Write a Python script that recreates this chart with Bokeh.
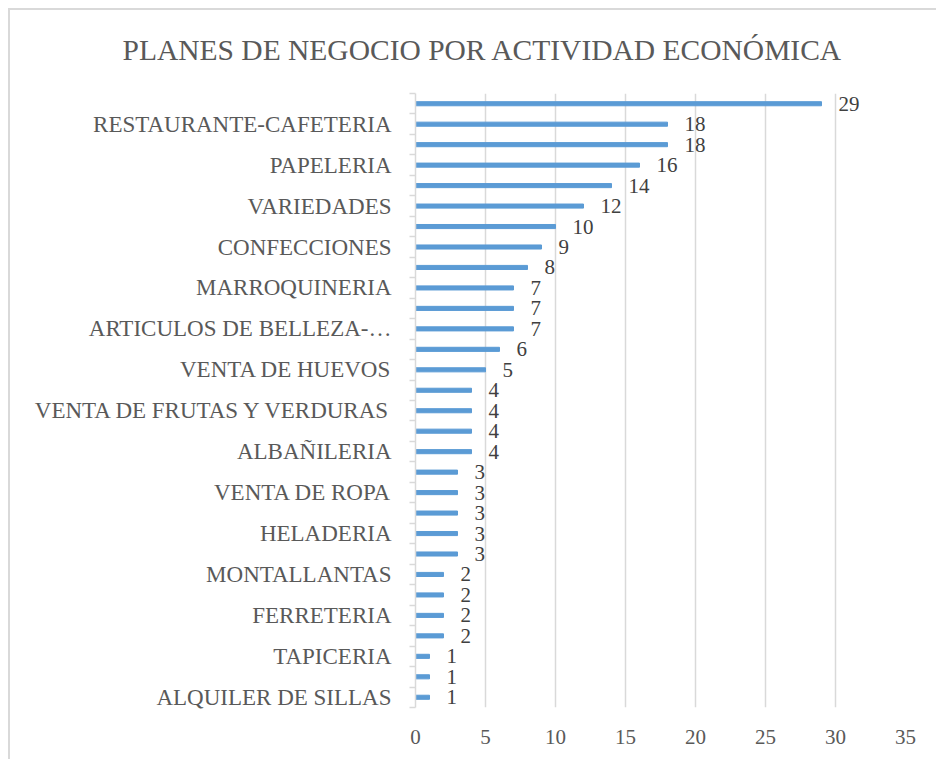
from bokeh.plotting import figure
from bokeh.models import ColumnDataSource, Range1d, FixedTicker
from bokeh.core.properties import value
from bokeh.embed import file_html
from bokeh.resources import INLINE

title = "PLANES DE NEGOCIO POR ACTIVIDAD ECONÓMICA"
# categories from top to bottom (only every other one is labelled in the reference)
categories = [
    "", "RESTAURANTE-CAFETERIA", "", "PAPELERIA", "", "VARIEDADES",
    "", "CONFECCIONES", "", "MARROQUINERIA", "", "ARTICULOS DE BELLEZA-…",
    "", "VENTA DE HUEVOS", "", "VENTA DE FRUTAS Y VERDURAS", "", "ALBAÑILERIA",
    "", "VENTA DE ROPA", "", "HELADERIA", "", "MONTALLANTAS",
    "", "FERRETERIA", "", "TAPICERIA", "", "ALQUILER DE SILLAS",
]
values = [29, 18, 18, 16, 14, 12, 10, 9, 8, 7, 7, 7, 6, 5, 4,
          4, 4, 4, 3, 3, 3, 3, 3, 2, 2, 2, 2, 1, 1, 1]
x_ticks = [0, 5, 10, 15, 20, 25, 30, 35]

FONT = "Liberation Serif"
GRAY = "#595959"
n = len(values)
pos = list(range(n))

src = ColumnDataSource(dict(y=pos, v=values, lbl=[str(v) for v in values]))

p = figure(width=936, height=759, output_backend="svg", toolbar_location=None,
           x_range=Range1d(0, 35), y_range=Range1d(n - 0.5, -0.5),
           min_border_left=415, min_border_right=31, min_border_top=93,
           min_border_bottom=52)
p.outline_line_color = None
p.border_fill_color = "white"

p.title.text = title
p.title.align = "left"
p.title.offset = -293
p.title.text_font = FONT
p.title.text_font_size = "29.5px"
p.title.text_font_style = "normal"
p.title.text_color = GRAY
p.title.standoff = 55

p.hbar(y="y", left=0, right="v", height=0.2, color="#5B9BD5", source=src)
p.text(x="v", y="y", text="lbl", source=src, x_offset=17, text_align="left",
       text_baseline="middle", text_font=value(FONT), text_font_size="21px",
       text_color="#404040")

# x axis
p.xaxis.ticker = FixedTicker(ticks=x_ticks)
p.xaxis.axis_line_color = None
p.xaxis.major_tick_line_color = None
p.xaxis.minor_tick_line_color = None
p.xaxis.major_label_text_font = FONT
p.xaxis.major_label_text_font_size = "21px"
p.xaxis.major_label_text_color = GRAY
p.xaxis.major_label_standoff = 16
p.xgrid.grid_line_color = "#d9d9d9"
p.xgrid.grid_line_width = 1.5
p.ygrid.grid_line_color = None

# y axis
labelled = [i for i, c in enumerate(categories) if c]
p.yaxis.ticker = FixedTicker(ticks=labelled, minor_ticks=[i - 0.5 for i in range(n + 1)])
p.yaxis.major_label_overrides = {i: categories[i] for i in labelled}
p.yaxis.axis_line_color = "#d9d9d9"
p.yaxis.axis_line_width = 1.5
p.yaxis.major_tick_line_color = None
p.yaxis.minor_tick_line_color = "#d9d9d9"
p.yaxis.minor_tick_line_width = 1.5
p.yaxis.minor_tick_out = 6
p.yaxis.minor_tick_in = 0
p.yaxis.major_label_text_font = FONT
p.yaxis.major_label_text_font_size = "23px"
p.yaxis.major_label_text_color = GRAY
p.yaxis.major_label_standoff = 18

html = file_html(p, INLINE)
border = ("<div style='position:fixed;left:8px;top:8px;width:2000px;height:2000px;"
          "border-left:2px solid #d9d9d9;border-top:2px solid #d9d9d9;"
          "pointer-events:none;z-index:1000'></div>")
html = html.replace("</body>", border + "</body>", 1)
open("out.html", "w").write(html)
